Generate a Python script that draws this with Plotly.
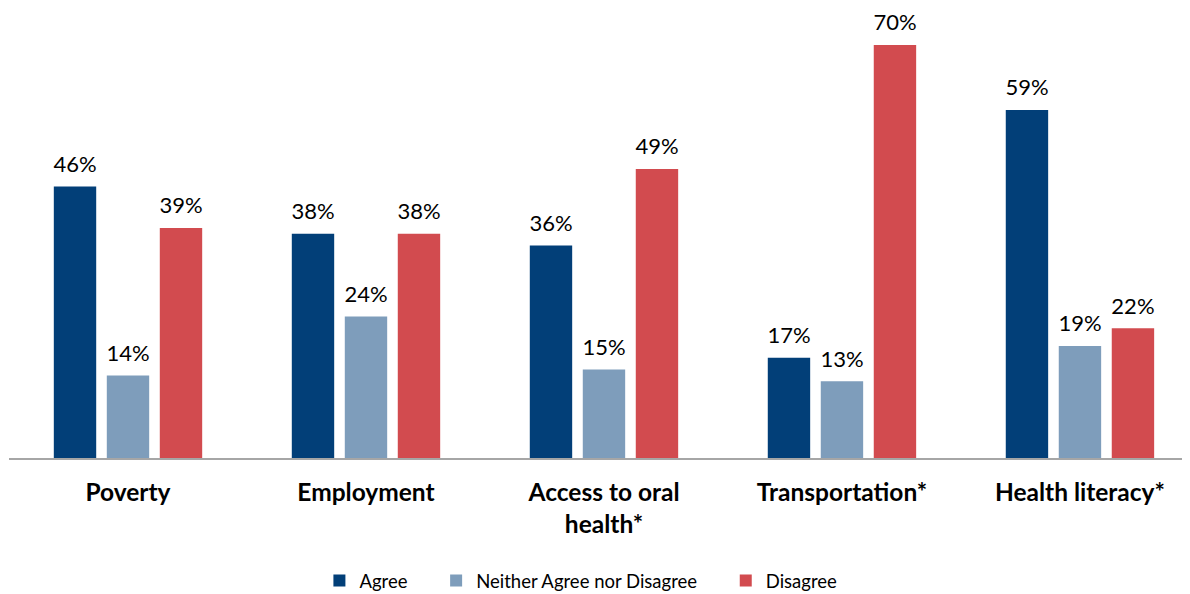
import plotly.graph_objects as go

categories = ["Poverty", "Employment", "Access to oral<br>health*", "Transportation*", "Health literacy*"]
agree = [46, 38, 36, 17, 59]
neither = [14, 24, 15, 13, 19]
disagree = [39, 38, 49, 70, 22]

series = [
    ("Agree", agree, "#023F78"),
    ("Neither Agree nor Disagree", neither, "#7E9DBB"),
    ("Disagree", disagree, "#D24B4F"),
]
legend_pad = ["\u00a0" * 5, "\u00a0" * 5, ""]

font_family = "Lato, 'Open Sans', sans-serif"
xs = list(range(len(categories)))

fig = go.Figure()
for (name, vals, color), pad in zip(series, legend_pad):
    fig.add_trace(go.Bar(
        x=xs, y=vals, name=name + pad,
        marker=dict(color=color, line=dict(width=0)),
        offsetgroup=name, alignmentgroup="g",
    ))
for name, vals, color in series:
    fig.add_trace(go.Scatter(
        x=xs, y=vals, mode="markers+text", showlegend=False, hoverinfo="skip",
        marker=dict(size=13, opacity=0, color=color),
        text=[f"{v}%" for v in vals], textposition="top center",
        textfont=dict(size=22, color="#000000", family=font_family),
        cliponaxis=False, offsetgroup=name, alignmentgroup="s",
    ))

fig.update_layout(
    width=1190, height=594,
    margin=dict(l=1, r=0, t=4, b=144),
    paper_bgcolor="white", plot_bgcolor="white",
    barmode="group", bargap=0.332, bargroupgap=0.2,
    scattermode="group", scattergap=0.332,
    font=dict(family=font_family, color="#000000"),
    showlegend=True,
    legend=dict(orientation="h", x=0.481, xanchor="center", y=-0.276, yanchor="middle",
                font=dict(size=18.5, family=font_family), itemwidth=30,
                traceorder="normal"),
    xaxis=dict(
        tickmode="array", tickvals=xs,
        ticktext=[f"<b>{c}</b>" for c in categories],
        range=[-0.5, 4.496], showline=True, linecolor="#A6A6A6", linewidth=1.5,
        ticks="", ticklabelstandoff=12, automargin=False,
        tickfont=dict(size=24.5, family=font_family, color="#000000"),
        showgrid=False, zeroline=False,
    ),
    yaxis=dict(range=[0, 75.6], visible=False, showgrid=False, zeroline=False, automargin=False),
)

fig.write_html("out.html")
